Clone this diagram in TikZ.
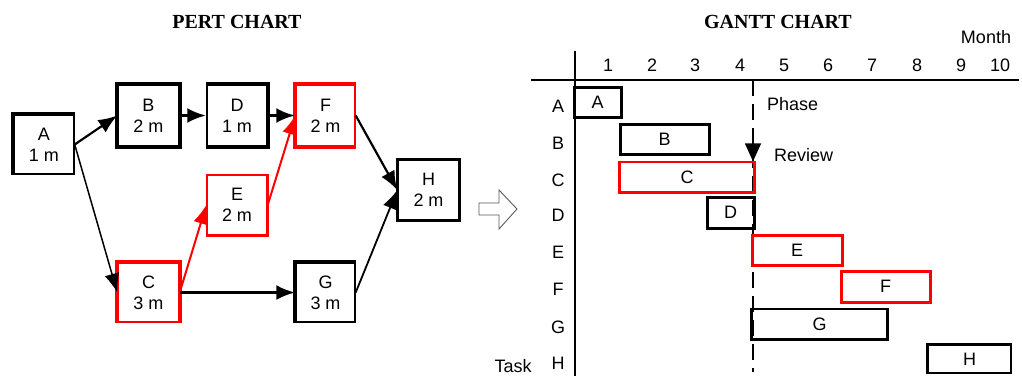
\documentclass[tikz,border=0pt]{standalone}
\usepackage{fontspec}
\setmainfont{Liberation Serif}
\setsansfont{Liberation Sans}
\usetikzlibrary{arrows.meta}
\begin{document}
\begin{tikzpicture}[x=1pt,y=-1pt,
  lbl/.style={font=\sffamily\fontsize{18}{21}\selectfont, inner sep=0pt},
  charttitle/.style={font=\bfseries\fontsize{20}{24}\selectfont, inner sep=0pt},
  pertbox/.style={draw, line width=1.4pt, inner sep=0pt, align=center,
    font=\sffamily\fontsize{18}{21}\selectfont, minimum width=60pt, minimum height=60pt},
  heavy/.style={line width=4pt, line cap=butt, line join=miter},
  heavyring/.style={line width=4pt, line join=miter},
  flow/.style={-{Latex[length=19pt 0,width=15pt 0]}},
  bar/.style={draw, line width=3pt, inner sep=0pt, minimum height=30pt,
    font=\sffamily\fontsize{18}{21}\selectfont},
  thinbar/.style={bar, line width=1.3pt},
  barheavy/.style={line width=3pt, line cap=butt, line join=miter},
]
\useasboundingbox (0,0) rectangle (1022,376);

% ---------------- PERT chart ----------------
\node[charttitle] (pt) at (237,22) {PERT CHART};

\node[pertbox, minimum height=59pt] (A) at (44,144.5) {A\\1 m};
\node[pertbox, minimum width=61pt, minimum height=61pt] (B) at (148.5,115.5) {B\\2 m};
\node[pertbox, minimum height=61pt] (D) at (237,115.5) {D\\1 m};
\node[pertbox, draw=red, minimum width=59pt, minimum height=61pt] (F) at (325.5,115.5) {F\\2 m};
\node[pertbox, draw=red] (E) at (237,205) {E\\2 m};
\node[pertbox, draw=red, minimum width=61pt, minimum height=59pt] (C) at (148.5,292.5) {C\\3 m};
\node[pertbox, minimum width=59pt, minimum height=59pt] (G) at (325.5,292.5) {G\\3 m};
\node[pertbox, minimum width=61pt] (H) at (428.5,190) {H\\2 m};

% heavier sides of the boxes
\draw[heavy] (A.south west) -- (A.north west) -- (A.north east);
\draw[heavyring] (B.south west) rectangle (B.north east);
\draw[heavy] (D.north west) -- (D.north east) -- (D.south east) -- (D.south west);
\draw[heavy, red] (F.north east) -- (F.north west) -- (F.south west) -- (F.south east);
\draw[heavy, red, line width=3.5pt] (E.north east) -- (E.south east) -- (E.south west);
\draw[heavy, red] (C.south west) -- (C.north west) -- (C.north east) -- (C.south east);
\draw[heavy] (G.south west) -- (G.north west) -- (G.north east);
\draw[heavyring, line width=3.5pt] (H.south west) rectangle (H.north east);

% precedence arrows
\draw[flow, line width=2.2pt] (A.east) -- (B.west);
\draw[flow, line width=1.5pt] (A.east) -- (C.west);
\draw[flow, line width=3.5pt] (B.east) -- (D.west);
\draw[flow, line width=3.5pt] (D.east) -- (F.west);
\draw[flow, line width=2pt, red] (C.east) -- (E.west);
\draw[flow, line width=2pt, red] (E.east) -- (F.west);
\draw[flow, line width=3pt] (C.east) -- (G.west);
\draw[flow, line width=2.2pt] (F.east) -- (H.west);
\draw[flow, line width=1.8pt] (G.east) -- (H.west);

% hollow arrow between the two charts
\draw[gray!70!black, line width=0.9pt, line join=miter]
  (479,203) -- (499,203) -- (499,190) -- (517,209) -- (499,229) -- (499,215) -- (479,215) -- cycle;

% ---------------- Gantt chart ----------------
\node[charttitle] (gt) at (778,22) {GANTT CHART};
\node[lbl] (month) at (986,37) {Month};
\node[lbl] (task) at (513,366) {Task};

\coordinate (vtop) at (575,51);
\coordinate (vbot) at (575,376);
\coordinate (hleft) at (531,80);
\coordinate (hright) at (1019,80);
\draw[line width=1.2pt] (vtop) -- (vbot);
\draw[line width=1.2pt] (hleft) -- (hright);

\foreach \m/\xx in {1/608,2/652,3/695,4/740,5/784,6/828,7/872,8/917,9/961,10/1000}
  \node[lbl] (m\m) at (\xx,65) {\m};

\foreach \t/\yy in {A/106,B/143,C/180,D/215,E/252,F/289,G/327,H/363}
  \node[lbl] (row\t) at (558,\yy) {\t};

% phase review marker
\coordinate (phtop) at (753,80);
\coordinate (phbot) at (753,372);
\draw[line width=1.3pt, dash pattern=on 16pt off 8pt] (phtop) -- (phbot);

% task bars
\node[bar, minimum width=47pt] (ga) at (597.5,102) {A};
\node[bar, minimum width=89pt] (gb) at (664.5,139) {B};
\node[thinbar, draw=red, minimum width=134pt] (gc) at (687,177) {C};
\draw[barheavy, red] (gc.north west) -- (gc.south west) -- (gc.south east) -- (gc.north east);
\node[bar, minimum width=47pt, minimum height=31pt] (gd) at (730.5,212.5) {D};
\node[bar, draw=red, minimum width=90pt] (ge) at (797,250) {E};
\node[bar, draw=red, minimum width=89pt, minimum height=31pt] (gf) at (885.5,286.5) {F};
\node[thinbar, minimum width=135pt] (gg) at (819.5,324) {G};
\draw[barheavy] (gg.north west) -- (gg.south west) -- (gg.south east) -- (gg.north east);
\node[thinbar, minimum width=83pt, minimum height=28pt] (gh) at (969.5,359) {H};
\draw[barheavy] (gh.south west) -- (gh.north west) -- (gh.north east);

\coordinate (rv) at (753,138);
\draw[line width=1.3pt, -{Triangle[length=18pt,width=16pt]}] (rv) -- (rv |- gc.north);

\node[lbl, anchor=west] (phase) at (767,104) {Phase};
\node[lbl, anchor=west] (review) at (774,155) {Review};
\end{tikzpicture}
\end{document}
